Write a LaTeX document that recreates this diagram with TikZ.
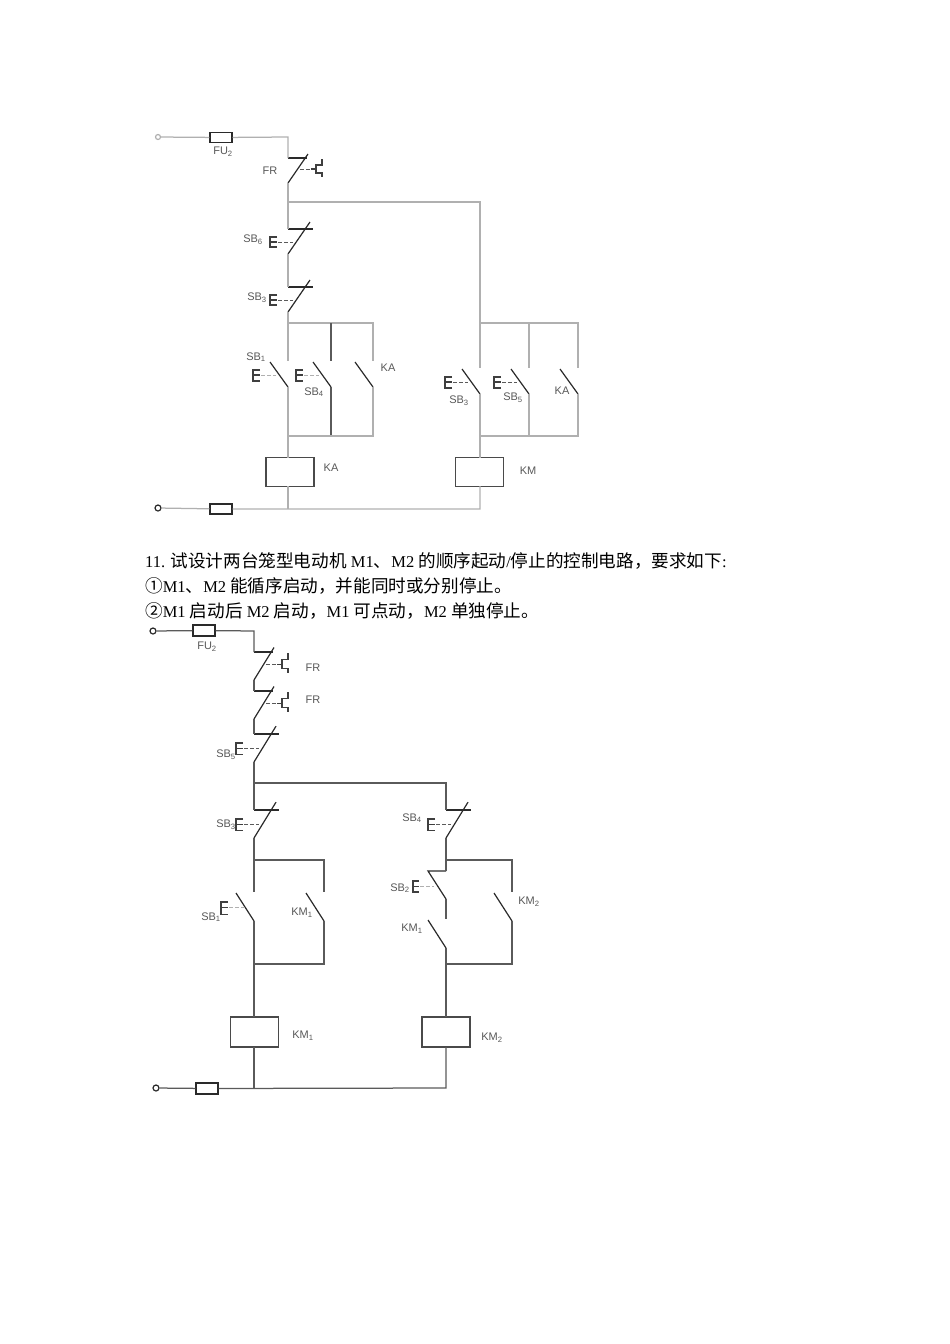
\documentclass[tikz,border=0pt]{standalone}
\usepackage{fontspec}
\setmainfont{Liberation Serif}
\setsansfont{Liberation Sans}
\newfontfamily\cjk{Noto Sans CJK SC}
\newcommand{\ZH}[1]{{\cjk\fontsize{17.6}{17.6}\selectfont #1}}
\definecolor{wireA}{HTML}{B0B0B0}
\definecolor{wireB}{HTML}{5A5A5A}
\definecolor{ink}{HTML}{2A2A2A}
\definecolor{lblgray}{HTML}{585858}
\tikzset{
  wire/.style={draw=wireA, line width=1.25pt},
  wirek/.style={draw=wireB, line width=1.25pt},
  blade/.style={draw=ink, line width=1.2pt},
  btn/.style={draw=ink!90, line width=1.15pt},
  dashlink/.style={draw=wireB, line width=1pt, dash pattern=on 4pt off 2pt},
  fuse/.style={draw=ink, fill=white, line width=1.2pt, inner sep=0pt, minimum width=22pt, minimum height=10pt},
  coil/.style={draw=ink!85, fill=white, line width=1.3pt, inner sep=0pt, minimum width=48pt, minimum height=29pt},
  term/.style={circle, draw=ink, fill=white, line width=1.2pt, inner sep=0pt, minimum size=6pt},
  lbl/.style={text=lblgray, font=\sffamily\fontsize{11}{11}\selectfont, inner sep=0pt},
  txt/.style={anchor=base west, inner sep=0pt, font=\fontsize{16.5}{16.5}\selectfont}
}
% normally closed contact, thermal relay
\newcommand{\FRcontact}[4][1]{
  \begin{scope}[shift={(#3,#4)}, yscale=#1]
    \coordinate (#2-t) at (0,0);
    \coordinate (#2-b) at (0,25);
    \draw[blade] (#2-t) -- (19,0);
    \draw[blade] (#2-b) -- (20,-4);
    \draw[dashlink] (12,11) -- (22,11);
    \draw[btn] (23,11) -- (28,11);
    \draw[btn] (34,1) -- (34,7) -- (28,7) -- (28,15) -- (34,15) -- (34,19);
  \end{scope}
}
% normally closed contact, push button
\newcommand{\NCbtn}[4][1]{
  \begin{scope}[shift={(#3,#4)}, yscale=#1]
    \coordinate (#2-t) at (0,0);
    \coordinate (#2-b) at (0,25);
    \draw[blade] (#2-t) -- (25,0);
    \draw[blade] (#2-b) -- (22,-7);
    \draw[dashlink] (-10,13) -- (5,13);
    \draw[btn] (-11,8) -- (-18,8) -- (-18,18) -- (-11,18) (-18,13) -- (-11,13);
  \end{scope}
}
% normally open contact
\newcommand{\NOcontact}[4][1]{
  \begin{scope}[shift={(#3,#4)}, yscale=#1]
    \coordinate (#2-b) at (0,0);
    \coordinate (#2-t) at (0,-26);
    \draw[blade] (#2-b) -- (-18,-25);
  \end{scope}
}
% the button of a normally open contact
\newcommand{\NObtn}[5][1]{
  \begin{scope}[shift={(#3,#4)}, yscale=#1]
    \draw[dashlink, draw=#5] (-27,-12) -- (-12,-12);
    \draw[btn] (-28,-17) -- (-35,-17) -- (-35,-6) -- (-28,-6) (-35,-12) -- (-28,-12);
  \end{scope}
}
\begin{document}
\begin{tikzpicture}[x=1pt, y=-1pt]
  \useasboundingbox (0,0) rectangle (950,1344);

  %% upper circuit
  \node[term, draw=wireA, minimum size=5pt] (tAa) at (158,137) {};
  \node[fuse] (fuAa) at (221,137.5) {};
  \node[term] (tAb) at (158,508) {};
  \node[fuse] (fuAb) at (221,509) {};
  \node[coil] (coilKA) at (290,472) {};
  \node[coil] (coilKM) at (479.5,472) {};

  \FRcontact{frA}{288}{158}
  \NCbtn{sbA}{288}{229}
  \NCbtn{sbB}{288}{287}
  \NOcontact{soA}{288}{387}
  \NOcontact{soB}{331}{387}
  \NOcontact{kaA}{373}{387}
  \NObtn{soA}{288}{387}{wireA}
  \NObtn{soB}{331}{387}{wireA}
  \NOcontact{soC}{480}{394}
  \NOcontact{soD}{529}{394}
  \NOcontact{kaB}{578}{394}
  \NObtn{soC}{480}{394}{wireB}
  \NObtn{soD}{529}{394}{wireB}

  \coordinate (cAa) at (288,137);
  \coordinate (cAb) at (288,202);
  \coordinate (cAc) at (480,202);
  \coordinate (cAd) at (288,323);
  \coordinate (cAe) at (331,323);
  \coordinate (cAf) at (373,323);
  \coordinate (cAg) at (288,436);
  \coordinate (cAh) at (331,436);
  \coordinate (cAi) at (373,436);
  \coordinate (cAj) at (480,323);
  \coordinate (cAk) at (529,323);
  \coordinate (cAl) at (578,323);
  \coordinate (cAm) at (480,436);
  \coordinate (cAn) at (529,436);
  \coordinate (cAo) at (578,436);
  \coordinate (cAp) at (288,509);
  \coordinate (cAq) at (480,509);
  \coordinate (cAr) at (288,458);
  \coordinate (cAs) at (288,486);
  \coordinate (cAt) at (480,458);
  \coordinate (cAu) at (480,486);

  \draw[wire] (tAa) -- (fuAa) -- (cAa) -- (frA-t);
  \draw[wire] (frA-b) -- (sbA-t);
  \draw[wire] (sbA-b) -- (sbB-t);
  \draw[wire] (sbB-b) -- (soA-t);
  \draw[wire] (cAb) -- (cAc) -- (soC-t);
  \draw[wire] (cAd) -- (cAf) -- (kaA-t);
  \draw[wire, draw=wireB] (cAe) -- (soB-t);
  \draw[wire] (soA-b) -- (cAr);
  \draw[wire, draw=wireB] (soB-b) -- (cAh);
  \draw[wire] (kaA-b) -- (cAi) -- (cAg);
  \draw[wire] (cAj) -- (cAl) -- (kaB-t);
  \draw[wire] (cAk) -- (soD-t);
  \draw[wire] (soC-b) -- (cAt);
  \draw[wire] (soD-b) -- (cAn);
  \draw[wire] (kaB-b) -- (cAo) -- (cAm);
  \draw[wire] (cAs) -- (cAp);
  \draw[wire] (cAu) -- (cAq) -- (fuAb) -- (tAb);

  \node[lbl] (lFUa) at (223,152) {FU\textsubscript{2}};
  \node[lbl] (lFRa) at (270,171) {FR};
  \node[lbl] (lSBa) at (253,240) {SB\textsubscript{6}};
  \node[lbl] (lSBb) at (257,298) {SB\textsubscript{3}};
  \node[lbl] (lSBc) at (256,357) {SB\textsubscript{1}};
  \node[lbl] (lSBd) at (314,392) {SB\textsubscript{4}};
  \node[lbl] (lKAa) at (388,368) {KA};
  \node[lbl] (lKAb) at (331,468) {KA};
  \node[lbl] (lSBe) at (459,401) {SB\textsubscript{3}};
  \node[lbl] (lSBf) at (513,398) {SB\textsubscript{5}};
  \node[lbl] (lKAc) at (562,391) {KA};
  \node[lbl] (lKM) at (528,471) {KM};

  %% question
  \node[txt] (qA) at (145,567) {11. \ZH{试设计两台笼型电动机} M1\ZH{、}M2 \ZH{的顺序起动}/\ZH{停止的控制电路，要求如下}:};
  \node[txt] (qB) at (145,592) {\ZH{①}M1\ZH{、}M2 \ZH{能循序启动，并能同时或分别停止。}};
  \node[txt] (qC) at (145,617) {\ZH{②}M1 \ZH{启动后} M2 \ZH{启动，}M1 \ZH{可点动，}M2 \ZH{单独停止。}};

  %% lower circuit
  \node[term] (tBa) at (153,631) {};
  \node[fuse, minimum height=11pt] (fuBa) at (204,630.5) {};
  \node[term] (tBb) at (156,1088) {};
  \node[fuse, minimum height=11pt] (fuBb) at (207,1088.5) {};
  \node[coil, minimum height=30pt] (coilMa) at (254.5,1032) {};
  \node[coil, minimum height=30pt] (coilMb) at (446,1032) {};

  \FRcontact[1.12]{frB}{254}{652}
  \FRcontact[1.12]{frC}{254}{691}
  \NCbtn[1.12]{sbC}{254}{734}
  \NCbtn[1.12]{sbD}{254}{810}
  \NCbtn[1.12]{sbE}{446}{810}
  \NOcontact[1.12]{soE}{254}{921}
  \NObtn[1.12]{soF}{256}{921}{wireA}
  \NOcontact[1.12]{kmA}{324}{921}
  \NOcontact[1.12]{kmB}{446}{948}
  \NOcontact[1.12]{kmC}{512}{921}

  % the one that hooks to the left
  \coordinate (sbF-t) at (446,871);
  \coordinate (sbF-h) at (428,871);
  \coordinate (sbF-b) at (446,899);
  \coordinate (sbF-c) at (446,919);
  \draw[blade] (sbF-t) -- (sbF-h) -- (sbF-b);
  \draw[dashlink, draw=wireA] (420,886.5) -- (434,886.5);
  \draw[btn] (419,881) -- (413,881) -- (413,892) -- (419,892) (413,886.5) -- (419,886.5);

  \coordinate (cBa) at (254,631);
  \coordinate (cBb) at (254,783);
  \coordinate (cBc) at (446,783);
  \coordinate (cBd) at (254,860);
  \coordinate (cBe) at (324,860);
  \coordinate (cBf) at (446,860);
  \coordinate (cBg) at (512,860);
  \coordinate (cBh) at (254,964);
  \coordinate (cBi) at (324,964);
  \coordinate (cBj) at (446,964);
  \coordinate (cBk) at (512,964);
  \coordinate (cBl) at (254,1088);
  \coordinate (cBm) at (446,1088);
  \coordinate (cBn) at (254,1017);
  \coordinate (cBo) at (254,1047);
  \coordinate (cBp) at (446,1017);
  \coordinate (cBq) at (446,1047);

  \draw[wirek] (tBa) -- (fuBa) -- (cBa) -- (frB-t);
  \draw[wirek] (frB-b) -- (frC-t);
  \draw[wirek] (frC-b) -- (sbC-t);
  \draw[wirek] (sbC-b) -- (sbD-t);
  \draw[wirek] (cBb) -- (cBc) -- (sbE-t);
  \draw[wirek] (sbD-b) -- (soE-t);
  \draw[wirek] (cBd) -- (cBe) -- (kmA-t);
  \draw[wirek] (soE-b) -- (cBn);
  \draw[wirek] (kmA-b) -- (cBi) -- (cBh);
  \draw[wirek] (sbE-b) -- (sbF-t);
  \draw[wirek] (cBf) -- (cBg) -- (kmC-t);
  \draw[wirek] (sbF-b) -- (sbF-c);
  \draw[wirek] (kmB-b) -- (cBp);
  \draw[wirek] (kmC-b) -- (cBk) -- (cBj);
  \draw[wirek] (cBo) -- (cBl);
  \draw[wirek] (cBq) -- (cBm) -- (fuBb) -- (tBb);

  \node[lbl] (lFUb) at (207,647) {FU\textsubscript{2}};
  \node[lbl] (lFRb) at (313,668) {FR};
  \node[lbl] (lFRc) at (313,700) {FR};
  \node[lbl] (lSBg) at (226,755) {SB\textsubscript{5}};
  \node[lbl] (lSBh) at (226,825) {SB\textsubscript{3}};
  \node[lbl] (lSBi) at (412,818) {SB\textsubscript{4}};
  \node[lbl] (lSBj) at (211,917) {SB\textsubscript{1}};
  \node[lbl] (lSBk) at (400,888) {SB\textsubscript{2}};
  \node[lbl] (lKMa) at (302,913) {KM\textsubscript{1}};
  \node[lbl] (lKMb) at (412,929) {KM\textsubscript{1}};
  \node[lbl] (lKMc) at (529,902) {KM\textsubscript{2}};
  \node[lbl] (lKMd) at (303,1036) {KM\textsubscript{1}};
  \node[lbl] (lKMe) at (492,1038) {KM\textsubscript{2}};
\end{tikzpicture}
\end{document}
